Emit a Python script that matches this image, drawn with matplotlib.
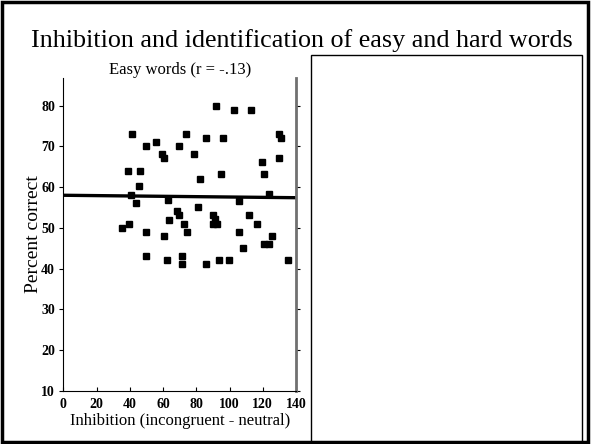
import matplotlib
matplotlib.use("Agg")
import matplotlib.pyplot as plt
from matplotlib.patches import Rectangle
import numpy as np

plt.rcParams['font.family'] = ['Liberation Serif', 'DejaVu Serif']

# inhibition score (incongruent - neutral) vs percent correct, easy words
inhibition = [41.5, 73.6, 55.6, 49.5, 69.6, 59.3, 60.6, 78.8, 38.7, 46.4,
              82.0, 45.7, 91.9, 102.7, 112.8, 85.9, 95.9, 129.8, 130.8, 129.8,
              119.6, 94.9, 120.6, 40.7, 43.7, 62.7, 68.6, 69.7, 81.0, 63.7,
              72.6, 39.7, 35.6, 49.6, 60.6, 74.6, 49.6, 62.6, 71.6, 71.6,
              86.0, 123.9, 105.9, 89.9, 91.3, 89.8, 92.5, 111.9, 116.7, 105.9,
              125.8, 107.9, 120.9, 123.8, 93.9, 99.9, 135.0]
pct_correct = [73.0, 73.0, 71.2, 70.1, 70.2, 68.1, 67.1, 68.1, 64.0, 64.0,
               62.1, 60.3, 79.9, 79.0, 79.0, 72.1, 72.1, 73.0, 72.1, 67.1,
               66.1, 63.1, 63.1, 58.0, 56.0, 56.8, 54.1, 53.1, 55.0, 51.9,
               51.0, 51.0, 50.0, 49.0, 48.1, 49.0, 43.1, 42.1, 43.1, 41.1,
               41.2, 58.3, 56.7, 53.1, 52.1, 51.0, 51.0, 53.1, 51.0, 49.0,
               48.1, 45.1, 46.1, 46.1, 42.1, 42.1, 42.1]

fit_x = [0, 140]
fit_y = [58.0, 57.4]

xticks = [0, 20, 40, 60, 80, 100, 120, 140]
yticks = [10, 20, 30, 40, 50, 60, 70, 80]

fig = plt.figure(figsize=(5.92, 4.44), dpi=100)

# slide frame and empty right panel
fig.patches.append(Rectangle((0.003, 0.004), 0.990, 0.991, transform=fig.transFigure,
                             fill=False, edgecolor='black', linewidth=2.5))
fig.patches.append(Rectangle((310.7 / 592, 0.0), (581.7 - 310.7) / 592, 1 - 55 / 444,
                             transform=fig.transFigure, fill=False,
                             edgecolor='black', linewidth=1))

fig.text(302 / 592, 1 - 41 / 444, "Inhibition and identification of easy and hard words",
         ha='center', va='center', fontsize=18.8)

ax = fig.add_axes([63.3 / 592, 1 - 390.7 / 444, (296 - 63.3) / 592, (390.7 - 78) / 444])
ax.plot(inhibition, pct_correct, 's', color='black', markersize=4.3)
ax.plot(fit_x, fit_y, color='black', linewidth=2.4)

ax.set_xlim(0, 140)
ax.set_ylim(10, 86.8)
ax.set_xticks(xticks)
ax.set_yticks(yticks)
for lab in ax.get_xticklabels() + ax.get_yticklabels():
    lab.set_fontweight('bold')
ax.tick_params(axis='both', labelsize=10, length=3, width=0.8, pad=3)
ax.tick_params(axis='y', right=True, direction='out')
ax.tick_params(axis='x', direction='in', pad=5)
ax.spines['top'].set_visible(False)
ax.spines['right'].set_color('#707070')
ax.spines['right'].set_linewidth(2)
ax.spines['left'].set_linewidth(0.8)
ax.spines['bottom'].set_linewidth(0.8)

ax.set_title("Easy words (r = -.13)", fontsize=12, pad=2)
ax.set_xlabel("Inhibition (incongruent - neutral)", fontsize=12, labelpad=2)
ax.set_ylabel("Percent correct", fontsize=14, labelpad=-1)

fig.savefig("out.png", dpi=100)
